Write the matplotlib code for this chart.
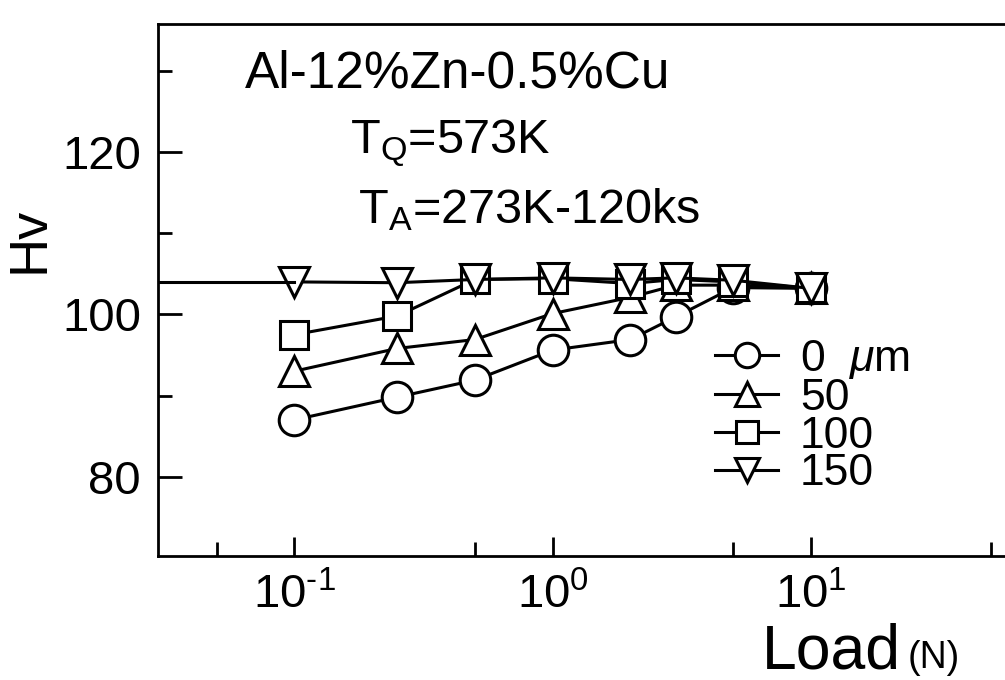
import matplotlib.pyplot as plt
from matplotlib.ticker import FixedLocator, NullFormatter

plt.rcParams['font.family'] = ['Liberation Sans', 'DejaVu Sans']
plt.rcParams['mathtext.fontset'] = 'custom'
plt.rcParams['mathtext.rm'] = 'Liberation Sans'
plt.rcParams['mathtext.it'] = 'Liberation Sans:italic'

# load (N) and Vickers hardness for each removed depth
loads = [0.1, 0.25, 0.5, 1, 2, 3, 5, 10]
hv_0 = [87.0, 89.8, 91.9, 95.6, 96.9, 99.7, 103.3, 103.2]
hv_50 = [93.0, 95.8, 96.9, 100.1, 102.1, 103.6, 103.6, 103.2]
hv_100 = [97.5, 99.8, 104.3, 104.4, 103.8, 104.3, 104.0, 103.2]
hv_150 = [104.0, 103.9, 104.3, 104.5, 104.3, 104.5, 104.2, 103.2]
labels = ['0  $\\mu$m', '50', '100', '150']
markers = ['o', '^', 's', 'v']

xticks = [0.1, 1, 10]
xticklabels = ['$10^{\\text{-}1}$', '$10^{0}$', '$10^{1}$']
xminor = [0.05, 0.5, 5, 50]
yticks = [80, 100, 120]
yminor = [90, 110, 130]

fig = plt.figure(figsize=(10.05, 6.8), dpi=100)
ax = fig.add_axes([0.157, 0.182, 0.843, 0.783])

series = [hv_0, hv_50, hv_100, hv_150]
sizes = [22, 22, 20, 22]
for hv, m, lab, ms in zip(series, markers, labels, sizes):
    ax.plot(loads, hv, color='black', lw=2.2, marker=m, ms=ms, mfc='white',
            mec='black', mew=2.2, label=lab)
# flat line of the 150 um set runs back to the axis
ax.plot([0.03, loads[0]], [hv_150[0], hv_150[0]], color='black', lw=2.2)

ax.set_xscale('log')
ax.set_xlim(0.0296, 56.4)
ax.set_ylim(70.2, 135.8)
ax.xaxis.set_major_locator(FixedLocator(xticks))
ax.set_xticklabels(xticklabels)
ax.xaxis.set_minor_locator(FixedLocator(xminor))
ax.xaxis.set_minor_formatter(NullFormatter())
ax.set_yticks(yticks)
ax.yaxis.set_minor_locator(FixedLocator(yminor))

ax.tick_params(which='both', direction='in', width=2, labelsize=34,
               top=False, right=False)
ax.tick_params(axis='y', which='major', length=17, pad=12)
ax.tick_params(axis='y', which='minor', length=10)
ax.tick_params(axis='x', which='major', length=14, pad=12)
ax.tick_params(axis='x', which='minor', length=10)
for s in ['left', 'bottom', 'top']:
    ax.spines[s].set_linewidth(2)
ax.spines['right'].set_visible(False)

ax.text(-0.151, 0.594, 'Hv', transform=ax.transAxes, fontsize=39,
        rotation=90, ha='center', va='center')
ax.text(0.713, -0.21, 'Load', transform=ax.transAxes, fontsize=45,
        ha='left', va='baseline')
ax.text(0.885, -0.21, '(N)', transform=ax.transAxes, fontsize=27,
        ha='left', va='baseline')

ax.text(0.103, 0.905, 'Al-12%Zn-0.5%Cu', transform=ax.transAxes,
        fontsize=37, va='center')
ax.text(0.227, 0.775, 'T$_{\\mathrm{Q}}$=573K', transform=ax.transAxes,
        fontsize=35, va='center')
ax.text(0.236, 0.65, 'T$_{\\mathrm{A}}$=273K-120ks', transform=ax.transAxes,
        fontsize=35, va='center')

ax.legend(loc='upper left', bbox_to_anchor=(0.632, 0.452), frameon=False,
          fontsize=32, handlelength=1.4, handletextpad=0.5,
          labelspacing=-0.07, markerscale=0.8, borderpad=0)

fig.savefig('out.png', dpi=100)
